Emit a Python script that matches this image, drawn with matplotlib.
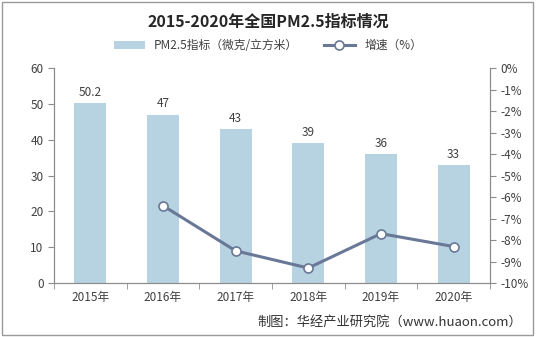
import matplotlib.pyplot as plt
from matplotlib.ticker import FixedLocator, FuncFormatter
import numpy as np

plt.rcParams['font.family'] = ['Noto Sans CJK SC', 'DejaVu Sans']

years = ['2015年', '2016年', '2017年', '2018年', '2019年', '2020年']
pm25 = [50.2, 47, 43, 39, 36, 33]
growth = [None, -6.4, -8.5, -9.3, -7.7, -8.3]
bar_labels = ['50.2', '47', '43', '39', '36', '33']

bar_color = '#b7d2e1'
line_color = '#687896'
axis_color = '#8c8c8c'
text_color = '#404040'

fig = plt.figure(figsize=(5.36, 3.37), dpi=100)
ax1 = fig.add_axes([0.1007, 0.160, 0.8133, 0.638])
ax2 = ax1.twinx()

x = np.arange(len(years))
bars = ax1.bar(x, pm25, width=0.44, color=bar_color, zorder=2, label='PM2.5指标（微克/立方米）')
for xi, v, lab in zip(x, pm25, bar_labels):
    ax1.text(xi, v + 1.2, lab, ha='center', va='bottom', fontsize=8.5, color=text_color)

gx = [xi for xi, g in zip(x, growth) if g is not None]
gy = [g for g in growth if g is not None]
line, = ax2.plot(gx, gy, color=line_color, lw=2.2, marker='o', markersize=6.5,
                 markerfacecolor='white', markeredgecolor=line_color, markeredgewidth=1.2,
                 zorder=3, label='增速（%）')

ax1.set_xlim(-0.5, len(years) - 0.5)
ax1.set_ylim(0, 60)
ax1.set_yticks(range(0, 61, 10))
ax2.set_ylim(-10, 0)
ax2.set_yticks(range(-10, 1, 1))
ax2.yaxis.set_major_formatter(FuncFormatter(lambda v, p: '%d%%' % v))

ax1.set_xticks(x)
ax1.set_xticklabels(years)
ax1.xaxis.set_minor_locator(FixedLocator(np.arange(-0.5, len(years), 1)))
ax1.tick_params(axis='x', which='major', length=0, labelsize=8.5, colors=text_color, pad=6)
ax1.tick_params(axis='x', which='minor', length=4, color=axis_color)
ax1.tick_params(axis='y', length=4, color=axis_color, labelsize=8.5, labelcolor=text_color)
ax2.tick_params(axis='y', length=4, color=axis_color, labelsize=8.5, labelcolor=text_color)

for a in (ax1, ax2):
    a.spines['top'].set_visible(False)
    for s in ('left', 'right', 'bottom'):
        a.spines[s].set_color(axis_color)
ax2.set_zorder(ax1.get_zorder() + 1)
ax2.patch.set_visible(False)

fig.text(0.5, 0.935, '2015-2020年全国PM2.5指标情况', ha='center', va='center',
         fontsize=11.5, fontweight='bold', color='#262626')
fig.legend(handles=[bars, line], loc='center', bbox_to_anchor=(0.5, 0.865), ncol=2,
           frameon=False, fontsize=8.5, handlelength=2.6, columnspacing=2.2,
           labelcolor=text_color)

fig.text(0.975, 0.045, '制图：华经产业研究院（www.huaon.com）', ha='right', va='center',
         fontsize=9.5, color='#333333')

fig.add_artist(plt.Rectangle((0.004, 0.006), 0.99, 0.988, transform=fig.transFigure,
                             fill=False, edgecolor='#999999', lw=1))

fig.savefig('out.png', dpi=100)
